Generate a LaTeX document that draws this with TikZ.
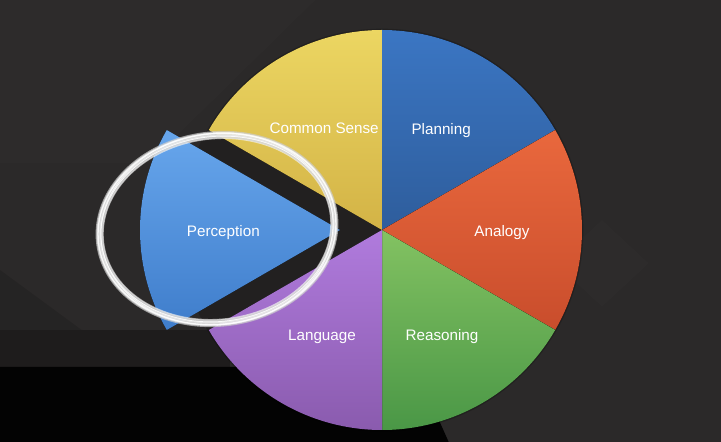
\documentclass[tikz,border=0pt]{standalone}
\usepackage{fontspec}
\setsansfont{Liberation Sans}
\usetikzlibrary{calc}
\definecolor{bggray}{HTML}{2B2929}
\definecolor{bgband}{HTML}{1E1C1C}
\definecolor{bgblack}{HTML}{030303}
\definecolor{senseyellow}{HTML}{ECD662}
\definecolor{senseyellowdk}{HTML}{D3B346}
\definecolor{planblue}{HTML}{3B76C3}
\definecolor{planbluedk}{HTML}{2E5D9C}
\definecolor{analogyred}{HTML}{E9683D}
\definecolor{analogyreddk}{HTML}{C94D2C}
\definecolor{reasongreen}{HTML}{83C262}
\definecolor{reasongreendk}{HTML}{4A9746}
\definecolor{languageviolet}{HTML}{B07BDD}
\definecolor{languagevioletdk}{HTML}{8A5BAE}
\definecolor{perceptblue}{HTML}{67A6EC}
\definecolor{perceptbluedk}{HTML}{3F7DCB}

\begin{document}
\begin{tikzpicture}[
		font=\sffamily\fontsize{13}{15}\selectfont,
		slicetext/.style={text=white, inner sep=0pt, yshift=-0.08cm},
		slice/.style 2 args={top color=#1, bottom color=#2},
		chalk/.style={draw=#1, line cap=round},
	]

	% background
	\useasboundingbox (-11.46,-6.36) rectangle (10.17,6.9);
	\fill[bggray] (-11.46,-6.36) rectangle (10.17,6.9);
	\fill[black, opacity=.12] (-11.46,-1.2) -- (-7.5,-4.11) -- (-11.46,-4.11) -- cycle;
	\fill[black, opacity=.15] (-9.0,-3.0) -- (-6.2,-4.11) -- (-10.5,-4.11) -- cycle;
	\fill[white, opacity=.012] (5.2,-1.0) -- (6.6,0.3) -- (8.0,-1.0) -- (6.6,-2.3) -- cycle;
	\fill[white, opacity=.012] (-11.46,6.9) -- (-2.0,6.9) -- (-7.0,2.0) -- (-11.46,2.0) -- cycle;
	\fill[bgband] (-11.46,-3.0) -- (-4.56,-3.0) -- (-4.56,-4.11) -- (-11.46,-4.11) -- cycle;
	\fill[bgblack] (-11.46,-4.11) -- (1.0,-4.11) -- (2.0,-6.36) -- (-11.46,-6.36) -- cycle;

	% pie slices
	\fill[black, opacity=.2] (0,0) circle[radius=6.04];
	\fill[slice={senseyellow}{senseyellowdk}]
	(0,0) -- (90:6) arc[start angle=90, end angle=150, radius=6] -- cycle;
	\fill[slice={planblue}{planbluedk}]
	(0,0) -- (30:6) arc[start angle=30, end angle=90, radius=6] -- cycle;
	\fill[slice={analogyred}{analogyreddk}]
	(0,0) -- (-30:6) arc[start angle=-30, end angle=30, radius=6] -- cycle;
	\fill[slice={reasongreen}{reasongreendk}]
	(0,0) -- (-90:6) arc[start angle=-90, end angle=-30, radius=6] -- cycle;
	\fill[slice={languageviolet}{languagevioletdk}]
	(0,0) -- (210:6) arc[start angle=210, end angle=270, radius=6] -- cycle;

	% pulled out slice
	\coordinate (percepttip) at (-1.26,0);
	\fill[slice={perceptblue}{perceptbluedk}]
	(percepttip) -- ++(150:6) arc[start angle=150, end angle=210, radius=6] -- cycle;

	% labels
	\node[slicetext] (sense) at (119:3.58) {Common Sense};
	\node[slicetext] (plan) at (60:3.55) {Planning};
	\node[slicetext] (analogy) at (0:3.6) {Analogy};
	\node[slicetext] (reason) at (-60:3.6) {Reasoning};
	\node[slicetext] (language) at (240:3.6) {Language};
	\node[slicetext] (percept) at ($(percepttip)+(180:3.5)$) {Perception};

	% chalk ring
	\begin{scope}[shift={(-4.95,0.03)}, rotate=7]
		\foreach \dr/\w/\c/\o in {-0.11/1.2/white/.6, -0.07/2.4/black!15/.9,
				-0.03/1.6/white/.95, 0.01/2.6/black!10/.9, 0.05/1.8/white/.85,
				0.09/1.2/black!20/.7}
		\draw[chalk=\c, opacity=\o, line width=\w pt]
		(0,0) ellipse[x radius=3.54+\dr, y radius=2.82+\dr];
		\draw[chalk=white, opacity=.7, line width=.7pt]
		(0,0) ellipse[x radius=3.49, y radius=2.87];
	\end{scope}

\end{tikzpicture}
\end{document}
